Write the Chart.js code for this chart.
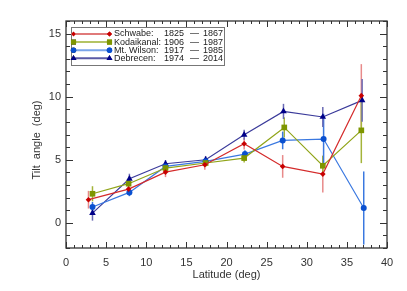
<!DOCTYPE html>
<html>
<head>
<meta charset="utf-8">
<script src="https://cdn.jsdelivr.net/npm/chart.js@4.4.0/dist/chart.umd.min.js"></script>
<style>
  html, body { margin: 0; padding: 0; background: #fff; }
  #wrap { width: 407px; height: 291px; }
</style>
</head>
<body>
<div id="wrap"><canvas id="tilt"></canvas></div>
<script>
// Tilt angle vs latitude, four observatories
const xTicks = [0, 5, 10, 15, 20, 25, 30, 35, 40];
const yTicks = [0, 5, 10, 15];

const schwabeLat = [2.8, 7.8, 12.4, 17.3, 22.2, 27.0, 32.0, 36.8];
const schwabeTilt = [1.83, 2.67, 4.02, 4.6, 6.27, 4.47, 3.86, 10.08];
const schwabeErr = [0.7, 0.35, 0.4, 0.4, 0.45, 0.9, 1.45, 2.5];

const kodaiLat = [3.3, 7.8, 12.4, 17.4, 22.2, 27.2, 32.0, 36.8];
const kodaiTilt = [2.3, 3.1, 4.34, 4.74, 5.13, 7.56, 4.52, 7.33];
const kodaiErr = [0.6, 0.3, 0.3, 0.3, 0.35, 0.8, 0.8, 2.6];

const wilsonLat = [3.3, 7.9, 12.4, 17.4, 22.3, 27.0, 32.1, 37.1];
const wilsonTilt = [1.25, 2.41, 4.47, 4.87, 5.45, 6.53, 6.64, 1.17];
const wilsonErr = [0.4, 0.3, 0.25, 0.25, 0.3, 0.7, 2.0, 2.9];

const debrecenLat = [3.3, 7.9, 12.4, 17.4, 22.2, 27.1, 32.0, 36.9];
const debrecenTilt = [0.77, 3.49, 4.68, 5.0, 6.98, 8.83, 8.39, 9.71];
const debrecenErr = [0.6, 0.4, 0.3, 0.3, 0.4, 0.6, 0.8, 1.7];

const legendRows = [
  ['Schwabe:', '1825', '1867'],
  ['Kodaikanal:', '1906', '1987'],
  ['Mt. Wilson:', '1917', '1985'],
  ['Debrecen:', '1974', '2014']
];

const FONT = '"Liberation Sans", Arial, sans-serif';

function points(xs, ys) {
  return xs.map((x, i) => ({ x, y: ys[i] }));
}

function makeSet(label, xs, ys, errs, style) {
  return {
    label,
    data: points(xs, ys),
    errs,
    showLine: true,
    borderColor: style.line,
    borderWidth: 1.2,
    barColor: style.bar,
    legendLine: style.legend,
    pointStyle: style.shape,
    pointRadius: style.radius,
    pointBackgroundColor: style.mark,
    pointBorderColor: style.mark,
    pointBorderWidth: 0
  };
}

const datasets = [
  makeSet('Schwabe', schwabeLat, schwabeTilt, schwabeErr,
    { line: '#d42a2a', bar: '#e88a8a', legend: '#e07a7a', mark: '#c80000', shape: 'rectRot', radius: 2.8 }),
  makeSet('Kodaikanal', kodaiLat, kodaiTilt, kodaiErr,
    { line: '#90a418', bar: '#a4b43a', legend: '#b4c464', mark: '#7e9600', shape: 'rect', radius: 4 }),
  makeSet('Mt. Wilson', wilsonLat, wilsonTilt, wilsonErr,
    { line: '#3a78e0', bar: '#3a78e0', legend: '#7aa4ea', mark: '#0a50d0', shape: 'circle', radius: 3 }),
  makeSet('Debrecen', debrecenLat, debrecenTilt, debrecenErr,
    { line: '#3a3a9a', bar: '#6a6ab4', legend: '#5a5aa6', mark: '#000088', shape: 'triangle', radius: 3.8 })
];

// Vertical error bars under the lines
const errorBars = {
  id: 'errorBars',
  beforeDatasetsDraw(chart) {
    const { ctx, scales: { x, y } } = chart;
    ctx.save();
    chart.data.datasets.forEach(ds => {
      ctx.strokeStyle = ds.barColor;
      ctx.lineWidth = 1.5;
      ds.data.forEach((p, i) => {
        const px = x.getPixelForValue(p.x);
        ctx.beginPath();
        ctx.moveTo(px, y.getPixelForValue(p.y - ds.errs[i]));
        ctx.lineTo(px, y.getPixelForValue(p.y + ds.errs[i]));
        ctx.stroke();
      });
    });
    ctx.restore();
  }
};

// Box frame with inward ticks on all four sides, axis titles, legend
const frame = {
  id: 'frame',
  afterDraw(chart) {
    const { ctx, chartArea: a, scales: { x, y } } = chart;
    ctx.save();
    ctx.strokeStyle = '#333';
    ctx.lineWidth = 1.3;
    ctx.strokeRect(a.left, a.top, a.right - a.left, a.bottom - a.top);

    ctx.lineWidth = 1;
    ctx.beginPath();
    for (let v = 0; v <= 40; v++) {
      const len = v % 5 === 0 ? 6 : 3;
      const px = Math.round(x.getPixelForValue(v)) + 0.5;
      ctx.moveTo(px, a.bottom); ctx.lineTo(px, a.bottom - len);
      ctx.moveTo(px, a.top); ctx.lineTo(px, a.top + len);
    }
    for (let v = -2; v <= 16; v++) {
      const len = v % 5 === 0 ? 7 : 4;
      const py = Math.round(y.getPixelForValue(v)) + 0.5;
      ctx.moveTo(a.left, py); ctx.lineTo(a.left + len, py);
      ctx.moveTo(a.right, py); ctx.lineTo(a.right - len, py);
    }
    ctx.stroke();

    // axis titles
    ctx.fillStyle = '#333';
    ctx.font = '11px ' + FONT;
    ctx.textAlign = 'center';
    ctx.textBaseline = 'middle';
    ctx.fillText('Latitude (deg)', (a.left + a.right) / 2, 275);
    ctx.translate(37, 140);
    ctx.rotate(-Math.PI / 2);
    ctx.fillText('Tilt  angle  (deg)', 0, 0);
    ctx.restore();

    // legend
    ctx.save();
    const bx = 71.5, by = 27.5, bw = 153, bh = 38;
    ctx.fillStyle = '#fff';
    ctx.fillRect(bx, by, bw, bh);
    ctx.strokeStyle = '#777';
    ctx.lineWidth = 1;
    ctx.strokeRect(bx, by, bw, bh);
    ctx.textBaseline = 'middle';
    chart.data.datasets.forEach((ds, i) => {
      const ry = 34 + i * 8.1;
      ctx.strokeStyle = ds.legendLine;
      ctx.lineWidth = 2;
      ctx.beginPath();
      ctx.moveTo(73.5, ry); ctx.lineTo(109.5, ry);
      ctx.stroke();
      [73.5, 109.5].forEach(mx => {
        Chart.helpers.drawPoint(ctx, {
          pointStyle: ds.pointStyle, radius: ds.pointRadius * 0.9,
          borderWidth: 0, rotation: 0
        }, mx, ry);
        ctx.fillStyle = ds.pointBackgroundColor;
        ctx.fill();
      });
      ctx.fillStyle = '#222';
      const row = legendRows[i];
      ctx.textAlign = 'left';
      ctx.font = '9px ' + FONT;
      ctx.fillText(row[0], 114, ry);
      ctx.fillText(row[1], 164, ry);
      ctx.fillText('\u2014', 190, ry);
      ctx.fillText(row[2], 203, ry);
    });
    ctx.restore();
  }
};

new Chart(document.getElementById('tilt'), {
  type: 'scatter',
  data: { datasets },
  options: {
    responsive: true,
    maintainAspectRatio: false,
    animation: false,
    layout: { padding: { top: 21, right: 20, left: 0, bottom: 0 } },
    plugins: {
      legend: { display: false },
      tooltip: { enabled: false }
    },
    elements: { line: { tension: 0 } },
    scales: {
      x: {
        type: 'linear',
        min: 0,
        max: 40,
        afterBuildTicks: s => { s.ticks = xTicks.map(v => ({ value: v })); },
        afterFit: s => { s.height = 43; },
        grid: { display: false, drawTicks: false },
        border: { display: false },
        ticks: { padding: 8, color: '#333', font: { family: FONT, size: 11 } }
      },
      y: {
        type: 'linear',
        min: -2,
        max: 16,
        afterBuildTicks: s => { s.ticks = yTicks.map(v => ({ value: v })); },
        afterFit: s => { s.width = 66; },
        grid: { display: false, drawTicks: false },
        border: { display: false },
        ticks: { padding: 5, color: '#333', font: { family: FONT, size: 11 } }
      }
    }
  },
  plugins: [errorBars, frame]
});
</script>
</body>
</html>
